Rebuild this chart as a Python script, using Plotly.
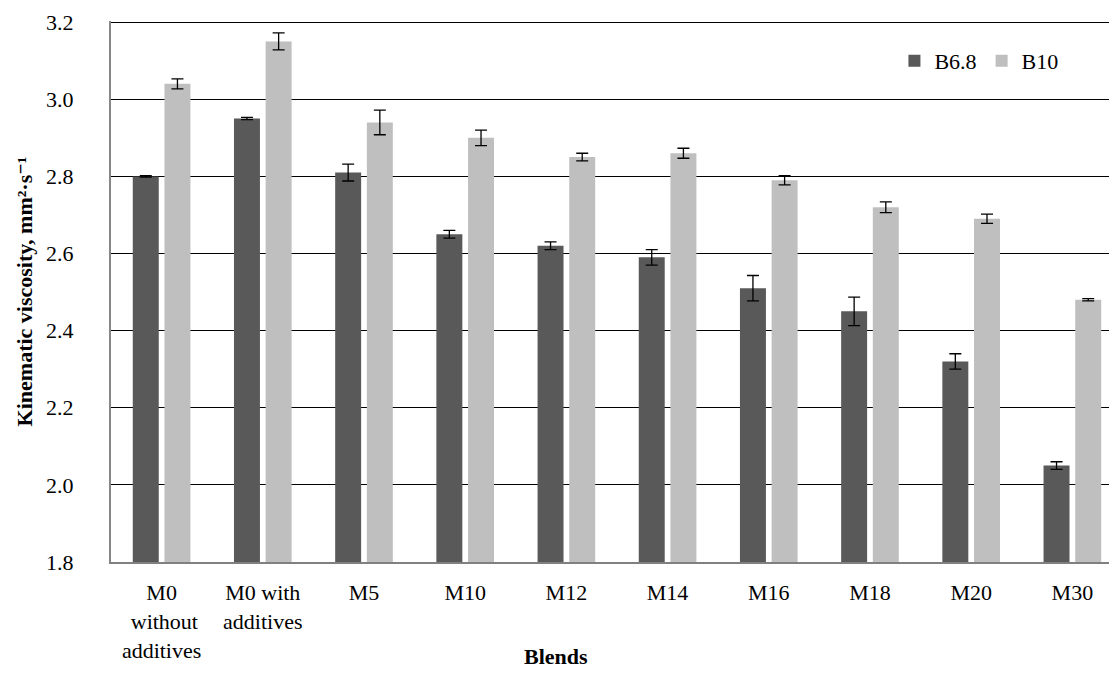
import plotly.graph_objects as go

categories = ["M0<br> without<br>additives", "M0 with<br>additives", "M5", "M10", "M12",
              "M14", "M16", "M18", "M20", "M30"]
b68 = [2.80, 2.95, 2.81, 2.65, 2.62, 2.59, 2.51, 2.45, 2.32, 2.05]
b68_err = [0.002, 0.003, 0.022, 0.01, 0.01, 0.02, 0.033, 0.037, 0.02, 0.01]
b10 = [3.04, 3.15, 2.94, 2.90, 2.85, 2.86, 2.79, 2.72, 2.69, 2.48]
b10_err = [0.013, 0.022, 0.032, 0.02, 0.01, 0.013, 0.012, 0.014, 0.012, 0.003]
yticks = [1.8, 2.0, 2.2, 2.4, 2.6, 2.8, 3.0, 3.2]

FONT = "'Liberation Serif', 'DejaVu Serif', serif"
x = list(range(len(categories)))

fig = go.Figure()
fig.add_trace(go.Bar(x=x, y=b68, name="B6.8", marker=dict(color="#595959", line=dict(width=0)),
                     error_y=dict(type="data", array=b68_err, color="#000000", thickness=1.3, width=6)))
fig.add_trace(go.Bar(x=x, y=b10, name="B10", marker=dict(color="#bfbfbf", line=dict(width=0)),
                     error_y=dict(type="data", array=b10_err, color="#000000", thickness=1.3, width=6)))

fig.update_layout(
    width=1101, height=662,
    margin=dict(l=103, r=0, t=13, b=108),
    paper_bgcolor="white", plot_bgcolor="white",
    barmode="group", bargap=0.374, bargroupgap=0.18,
    font=dict(family=FONT, size=22, color="#000000"),
    legend=dict(orientation="h", x=0.785, y=0.926, xanchor="left", yanchor="middle",
                font=dict(size=22), bgcolor="rgba(0,0,0,0)", itemwidth=30),
    xaxis=dict(tickmode="array", tickvals=x, ticktext=categories, range=[-0.5, 9.362],
               showline=True, linecolor="#808080", linewidth=2, showgrid=False,
               ticks="", tickfont=dict(size=22), ticklabelstandoff=10),
    yaxis=dict(range=[1.8, 3.203], tickvals=yticks, tickformat=".1f",
               showline=True, linecolor="#868686", linewidth=2,
               showgrid=True, gridcolor="#000000", gridwidth=1,
               ticks="", tickfont=dict(size=22), zeroline=False, ticklabelstandoff=31,
               title=dict(text="<b>Kinematic viscosity, mm²·s⁻¹</b>", font=dict(size=22), standoff=7)),
    annotations=[dict(text="<b>Blends</b>", xref="paper", yref="paper", x=0.446, y=-0.202,
                      xanchor="center", yanchor="bottom", showarrow=False, font=dict(size=22))],
)

fig.write_html("out.html")
